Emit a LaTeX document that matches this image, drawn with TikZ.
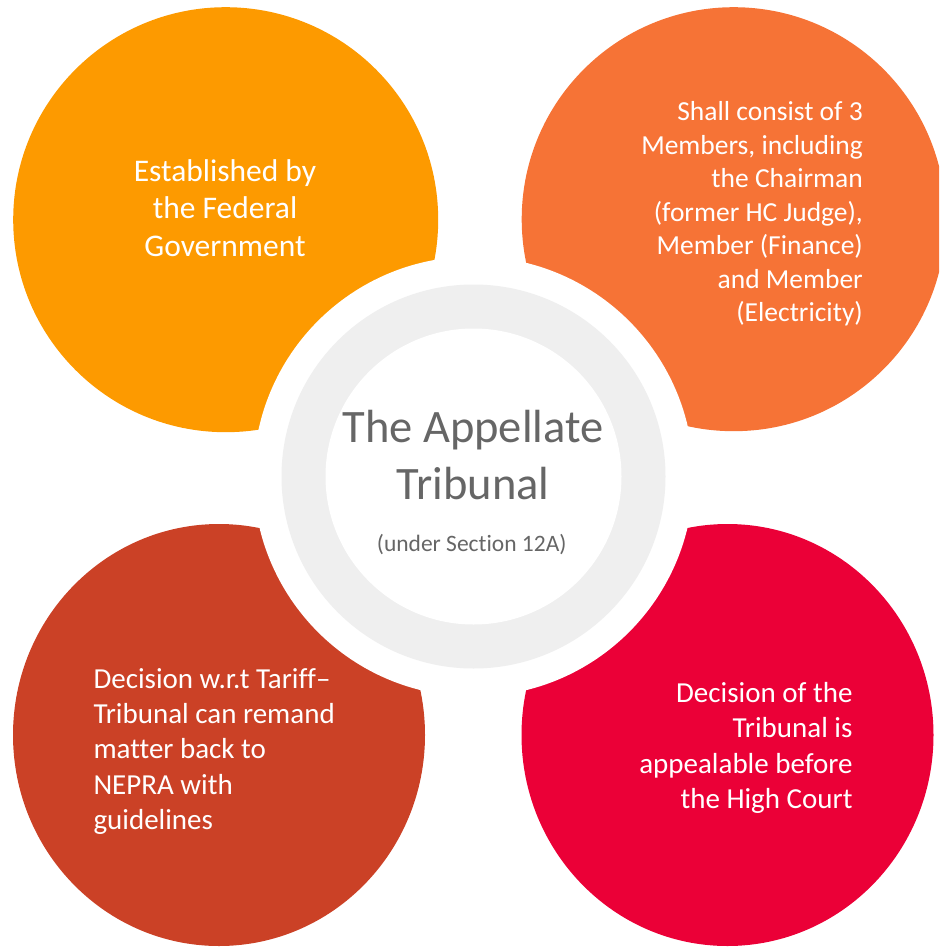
\documentclass[tikz,border=0pt]{standalone}
\usepackage{fontspec}
\setmainfont{Carlito}[Ligatures={TeX,NoCommon}]
\definecolor{cTL}{HTML}{FD9A00}
\definecolor{cTR}{HTML}{F67336}
\definecolor{cBL}{HTML}{CB4126}
\definecolor{cBR}{HTML}{EB0037}
\definecolor{ringgray}{HTML}{EFEFEF}
\definecolor{titlegray}{HTML}{666666}
\begin{document}
\begin{tikzpicture}[x=1pt,y=-1pt,
  txt/.style={inner sep=0pt, text=white},
  ctxt/.style={inner sep=0pt, text=titlegray}]
\useasboundingbox (0,0) rectangle (939,947);
\clip (0,0) rectangle (939,947);
\fill[cTL] (225.7,219.7) circle[radius=212.5];
\fill[cTR] (733.7,219.2) circle[radius=212];
\fill[cBL] (219,735) ellipse[x radius=206,y radius=211];
\fill[cBR] (727.5,735) ellipse[x radius=206,y radius=211];
\fill[white] (473.5,476.5) circle[radius=220];
\fill[ringgray] (473.5,476.5) circle[radius=192];
\fill[white] (473.5,476.5) circle[radius=148];
% anchors below are at the baseline of the LAST line of each node
\node[txt, anchor=base, align=center, font=\fontsize{31.5}{37.2}\selectfont] (tl) at (225,256) {Established by\\the Federal\\Government};
\node[txt, anchor=base east, align=right, font=\fontsize{27.5}{33.5}\selectfont] (tr) at (863,321.7) {Shall consist of 3\\Members, including\\the Chairman\\(former HC Judge),\\Member (Finance)\\and Member\\(Electricity)};
\node[txt, anchor=base west, align=left, font=\fontsize{29}{35.2}\selectfont] (bl) at (93.3,829.3) {Decision w.r.t Tariff–\\Tribunal can remand\\matter back to\\NEPRA with\\guidelines};
\node[txt, anchor=base east, align=right, font=\fontsize{29}{35.3}\selectfont] (br) at (852.7,808.3) {Decision of the\\Tribunal is\\appealable before\\the High Court};
\node[ctxt, anchor=base, align=center, font=\fontsize{46.5}{56.5}\selectfont] (title) at (473,499) {The Appellate\\Tribunal};
\node[ctxt, anchor=base, font=\fontsize{23.5}{28}\selectfont] (sub) at (471.7,551) {(under Section 12A)};
\end{tikzpicture}
\end{document}
